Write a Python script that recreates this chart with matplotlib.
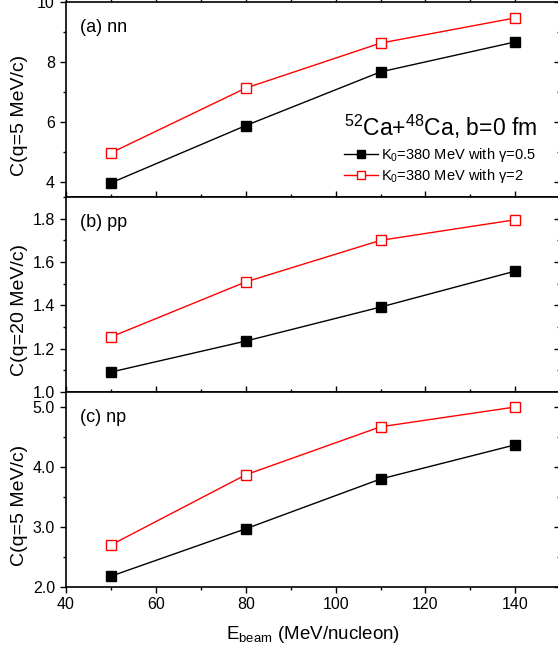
import matplotlib
matplotlib.use('Agg')
import matplotlib.pyplot as plt
from matplotlib.ticker import MultipleLocator, FormatStrFormatter, NullFormatter

plt.rcParams['font.family'] = ['Liberation Sans', 'DejaVu Sans']
plt.rcParams['mathtext.fontset'] = 'custom'
plt.rcParams['mathtext.rm'] = 'Liberation Sans'
plt.rcParams['mathtext.it'] = 'Liberation Sans:italic'

ebeam = [50, 80, 110, 140]
nn_g05 = [3.97, 5.88, 7.67, 8.67]
nn_g2 = [4.97, 7.13, 8.63, 9.47]
pp_g05 = [1.092, 1.235, 1.392, 1.558]
pp_g2 = [1.254, 1.508, 1.700, 1.795]
np_g05 = [2.18, 2.97, 3.80, 4.37]
np_g2 = [2.70, 3.87, 4.67, 5.00]

panel_names = ['(a) nn', '(b) pp', '(c) np']
ylabels = ['C(q=5 MeV/c)', 'C(q=20 MeV/c)', 'C(q=5 MeV/c)']
label_g05 = 'K$_0$=380 MeV with \u03b3=0.5'
label_g2 = 'K$_0$=380 MeV with \u03b3=2'

fig = plt.figure(figsize=(5.58, 6.53), dpi=100)
left, right = 66/558, 1.004
bot = 1 - 587/653
h = 195/653
axes = [fig.add_axes([left, bot + (2 - i)*h, right - left, h]) for i in range(3)]

data = [(nn_g05, nn_g2), (pp_g05, pp_g2), (np_g05, np_g2)]
ylims = [(3.5, 10), (1.0, 1.9), (2.0, 5.25)]
majors = [2, 0.2, 1.0]
minors = [1, 0.1, 0.5]
fmts = ['%d', '%.1f', '%.1f']

for i, ax in enumerate(axes):
    g05, g2 = data[i]
    ax.plot(ebeam, g05, '-s', color='black', lw=1, ms=7.2, mfc='black', mec='black',
            label=label_g05)
    ax.plot(ebeam, g2, '-s', color='red', lw=1, ms=7.2, mfc='white', mec='red',
            mew=1.0, label=label_g2)
    ax.set_xlim(40, 150)
    ax.set_ylim(*ylims[i])
    ax.xaxis.set_major_locator(MultipleLocator(20))
    ax.xaxis.set_minor_locator(MultipleLocator(10))
    ax.yaxis.set_major_locator(MultipleLocator(majors[i]))
    ax.yaxis.set_minor_locator(MultipleLocator(minors[i]))
    ax.yaxis.set_major_formatter(FormatStrFormatter(fmts[i]))
    ax.tick_params(which='both', direction='out', top=True, right=False, labelsize=11.5)
    ax.tick_params(which='major', length=4.5, width=1)
    ax.tick_params(which='minor', length=2.5, width=1)
    ax.tick_params(axis='x', pad=2.5)
    # right-hand ticks point inward
    sec = ax.secondary_yaxis('right')
    sec.yaxis.set_major_locator(MultipleLocator(majors[i]))
    sec.yaxis.set_minor_locator(MultipleLocator(minors[i]))
    sec.yaxis.set_major_formatter(NullFormatter())
    sec.tick_params(which='both', direction='in', width=1)
    sec.tick_params(which='major', length=4.5)
    sec.tick_params(which='minor', length=2.5)
    for s in ax.spines.values():
        s.set_linewidth(1.2)
    ax.set_ylabel(ylabels[i], fontsize=14)
    ax.yaxis.set_label_coords(-0.076, 0.42)
    ax.text(0.028, 0.87, panel_names[i], transform=ax.transAxes, fontsize=13,
            va='center', ha='left')
    if i < 2:
        ax.tick_params(labelbottom=False)

axes[2].set_xlabel(r'E$_{\mathrm{beam}}$ (MeV/nucleon)', fontsize=13.5, labelpad=9)
axes[0].text(0.563, 0.36, r'$^{52}$Ca+$^{48}$Ca, b=0 fm', transform=axes[0].transAxes,
             fontsize=16.5, va='center', ha='left')
axes[0].legend(loc='upper left', bbox_to_anchor=(0.545, 0.305), frameon=False,
               fontsize=10.5, handlelength=2.3, handletextpad=0.25, labelspacing=0.2,
               borderpad=0.1, markerscale=0.8)

fig.savefig('out.png', dpi=100)
